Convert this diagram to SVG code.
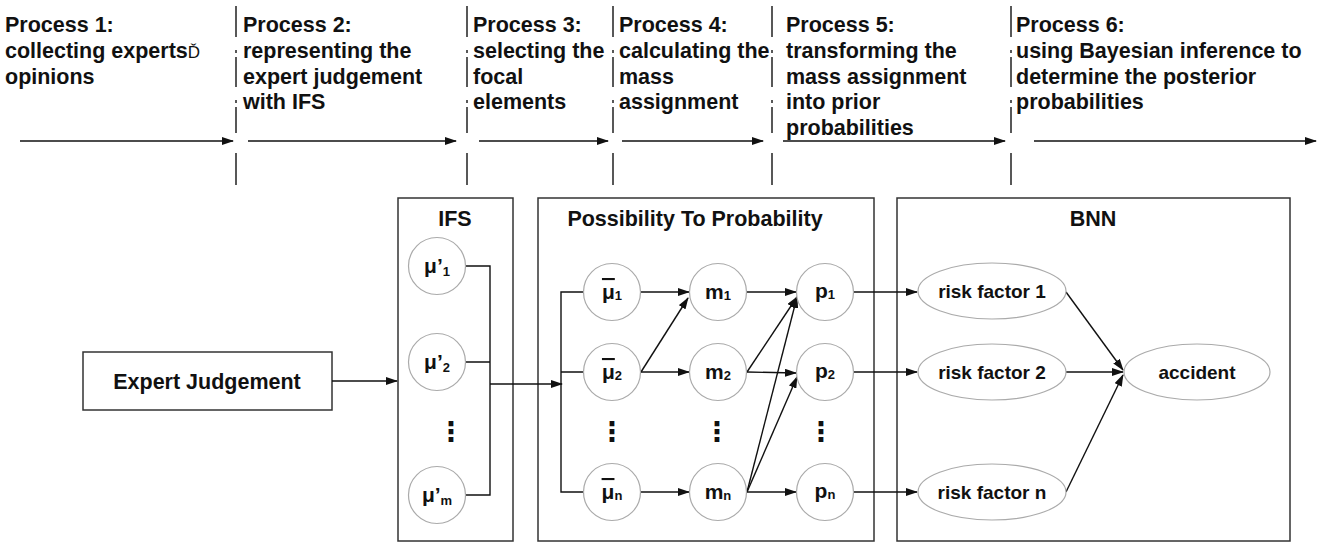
<svg xmlns="http://www.w3.org/2000/svg" width="1319" height="543" viewBox="0 0 1319 543">
<defs>
<marker id="ah" markerWidth="12" markerHeight="8" refX="11" refY="4" orient="auto" markerUnits="userSpaceOnUse"><path d="M0,0 L12,4 L0,8 z" fill="#111"/></marker>
</defs>
<style>
text{font-family:"Liberation Sans",Arial,sans-serif;font-weight:bold;fill:#111}
.hd{font-size:21.5px}
.sep{stroke:#222;stroke-width:1.5;fill:none}
.ln{stroke:#111;stroke-width:1.4;fill:none}
.ar{stroke:#111;stroke-width:1.4;fill:none;marker-end:url(#ah)}
.box{fill:#fff;stroke:#333;stroke-width:1.5}
.cir{fill:#fff;stroke:#aaa;stroke-width:1.2}
.t{font-size:21px;text-anchor:middle}
.el{font-size:19px;text-anchor:middle}
.ttl{font-size:21.5px;text-anchor:middle}
.dots{font-family:"DejaVu Sans",sans-serif;font-size:27px;text-anchor:middle}
.sub{font-size:13px}
</style>
<rect width="1319" height="543" fill="#fff"/>

<g id="header">
<text class="hd" x="5" y="32">Process 1:</text>
<text class="hd" x="5" y="57.75">collecting experts<tspan font-weight="normal" font-size="17">Ď</tspan></text>
<text class="hd" x="5" y="83.5">opinions</text>
<text class="hd" x="243" y="32">Process 2:</text>
<text class="hd" x="243" y="57.75">representing the</text>
<text class="hd" x="243" y="83.5">expert judgement</text>
<text class="hd" x="243" y="109.25">with IFS</text>
<text class="hd" x="473" y="32">Process 3:</text>
<text class="hd" x="473" y="57.75">selecting the</text>
<text class="hd" x="473" y="83.5">focal</text>
<text class="hd" x="473" y="109.25">elements</text>
<text class="hd" x="619" y="32">Process 4:</text>
<text class="hd" x="619" y="57.75">calculating the</text>
<text class="hd" x="619" y="83.5">mass</text>
<text class="hd" x="619" y="109.25">assignment</text>
<text class="hd" x="786" y="32">Process 5:</text>
<text class="hd" x="786" y="57.75">transforming the</text>
<text class="hd" x="786" y="83.5">mass assignment</text>
<text class="hd" x="786" y="109.25">into prior</text>
<text class="hd" x="786" y="135">probabilities</text>
<text class="hd" x="1016" y="32">Process 6:</text>
<text class="hd" x="1016" y="57.75">using Bayesian inference to</text>
<text class="hd" x="1016" y="83.5">determine the posterior</text>
<text class="hd" x="1016" y="109.25">probabilities</text>
</g>

<g id="timeline">
<g class="sep">
<path d="M236,6V37 M236,50V53 M236,57V87 M236,100V103 M236,107V133 M236,153V185"/>
<path d="M467,6V37 M467,50V53 M467,57V87 M467,100V103 M467,107V133 M467,153V185"/>
<path d="M613,6V37 M613,50V53 M613,57V87 M613,100V103 M613,107V133 M613,153V185"/>
<path d="M772,6V37 M772,50V53 M772,57V87 M772,100V103 M772,107V133 M772,153V185"/>
<path d="M1011,6V37 M1011,50V53 M1011,57V87 M1011,100V103 M1011,107V133 M1011,153V185"/>
</g>
<line class="ar" x1="20" y1="141" x2="233" y2="141"/>
<line class="ar" x1="248" y1="141" x2="456" y2="141"/>
<line class="ar" x1="479" y1="141" x2="608" y2="141"/>
<line class="ar" x1="622" y1="141" x2="763" y2="141"/>
<line class="ar" x1="783" y1="141" x2="1005" y2="141"/>
<line class="ar" x1="1034" y1="141" x2="1316" y2="141"/>
</g>

<g id="boxes">
<g id="ifs-box"><rect class="box" x="398" y="198" width="115" height="343"/><text class="ttl" x="455" y="226">IFS</text></g>
<g id="p2p-box"><rect class="box" x="538" y="198" width="336" height="343"/><text class="ttl" x="695" y="226">Possibility To Probability</text></g>
<g id="bnn-box"><rect class="box" x="897" y="198" width="393" height="343"/><text class="ttl" x="1093" y="226">BNN</text></g>
</g>

<g id="expert-judgement"><rect class="box" x="83" y="352" width="249" height="58"/><text class="ttl" x="207" y="389">Expert Judgement</text></g>

<g id="connectors">
<line class="ar" x1="332" y1="381" x2="397" y2="381"/>
<path class="ln" d="M466,266H490V495H466 M466,362H490"/>
<line class="ar" x1="490" y1="384" x2="562" y2="384"/>
<path class="ln" d="M584,292H561V492H584 M561,372H584"/>
<line class="ar" x1="641" y1="292" x2="689" y2="292"/>
<line class="ar" x1="641" y1="372" x2="688" y2="298"/>
<line class="ar" x1="641" y1="372" x2="689" y2="372"/>
<line class="ar" x1="641" y1="492" x2="689" y2="492"/>
<line class="ar" x1="747" y1="292" x2="796" y2="292"/>
<line class="ar" x1="747" y1="372" x2="797" y2="297"/>
<line class="ar" x1="747" y1="372" x2="796" y2="373"/>
<line class="ar" x1="747" y1="492" x2="797" y2="297"/>
<line class="ar" x1="747" y1="492" x2="797" y2="377"/>
<line class="ar" x1="747" y1="492" x2="796" y2="492"/>
<line class="ar" x1="854" y1="292" x2="917" y2="292"/>
<line class="ar" x1="854" y1="372" x2="917" y2="372"/>
<line class="ar" x1="854" y1="492" x2="917" y2="492"/>
<line class="ar" x1="1066" y1="292" x2="1123" y2="370"/>
<line class="ar" x1="1066" y1="372" x2="1123" y2="372"/>
<line class="ar" x1="1066" y1="492" x2="1123" y2="375"/>
</g>

<g id="mu1p"><circle class="cir" cx="437" cy="266" r="28.5"/><text class="t" x="437" y="273">μ’<tspan class="sub" dy="3">1</tspan></text></g>
<g id="mu2p"><circle class="cir" cx="437" cy="362" r="28.5"/><text class="t" x="437" y="369">μ’<tspan class="sub" dy="3">2</tspan></text></g>
<text class="dots" x="451" y="441">⋮</text>
<g id="mump"><circle class="cir" cx="437" cy="495" r="28.5"/><text class="t" x="437" y="502">μ’<tspan class="sub" dy="3">m</tspan></text></g>

<g id="mubar1"><circle class="cir" cx="612" cy="292" r="28.5"/><text class="t" x="612" y="299"><tspan text-decoration="overline">μ</tspan><tspan class="sub" dy="1">1</tspan></text></g>
<g id="mubar2"><circle class="cir" cx="612" cy="372" r="28.5"/><text class="t" x="612" y="379"><tspan text-decoration="overline">μ</tspan><tspan class="sub" dy="1">2</tspan></text></g>
<text class="dots" x="612" y="441">⋮</text>
<g id="mubarn"><circle class="cir" cx="612" cy="492" r="28.5"/><text class="t" x="612" y="499"><tspan text-decoration="overline">μ</tspan><tspan class="sub" dy="1">n</tspan></text></g>

<g id="m1"><circle class="cir" cx="718" cy="292" r="28.5"/><text class="t" x="718" y="299">m<tspan class="sub" dy="1">1</tspan></text></g>
<g id="m2"><circle class="cir" cx="718" cy="372" r="28.5"/><text class="t" x="718" y="379">m<tspan class="sub" dy="1">2</tspan></text></g>
<text class="dots" x="717" y="441">⋮</text>
<g id="mn"><circle class="cir" cx="718" cy="492" r="28.5"/><text class="t" x="718" y="499">m<tspan class="sub" dy="1">n</tspan></text></g>

<g id="p1"><circle class="cir" cx="825" cy="292" r="28.5"/><text class="t" x="825" y="298">p<tspan class="sub" dy="1">1</tspan></text></g>
<g id="p2"><circle class="cir" cx="825" cy="372" r="28.5"/><text class="t" x="825" y="378">p<tspan class="sub" dy="1">2</tspan></text></g>
<text class="dots" x="821" y="441">⋮</text>
<g id="pn"><circle class="cir" cx="825" cy="492" r="28.5"/><text class="t" x="825" y="498">p<tspan class="sub" dy="1">n</tspan></text></g>

<g id="rf1"><ellipse class="cir" cx="992" cy="291" rx="74" ry="28"/><text class="el" x="992" y="298">risk factor 1</text></g>
<g id="rf2"><ellipse class="cir" cx="992" cy="372" rx="74" ry="28"/><text class="el" x="992" y="379">risk factor 2</text></g>
<g id="rfn"><ellipse class="cir" cx="992" cy="492" rx="74" ry="28"/><text class="el" x="992" y="499">risk factor n</text></g>
<g id="accident"><ellipse class="cir" cx="1197" cy="372" rx="73" ry="28"/><text class="el" x="1197" y="379">accident</text></g>
</svg>
